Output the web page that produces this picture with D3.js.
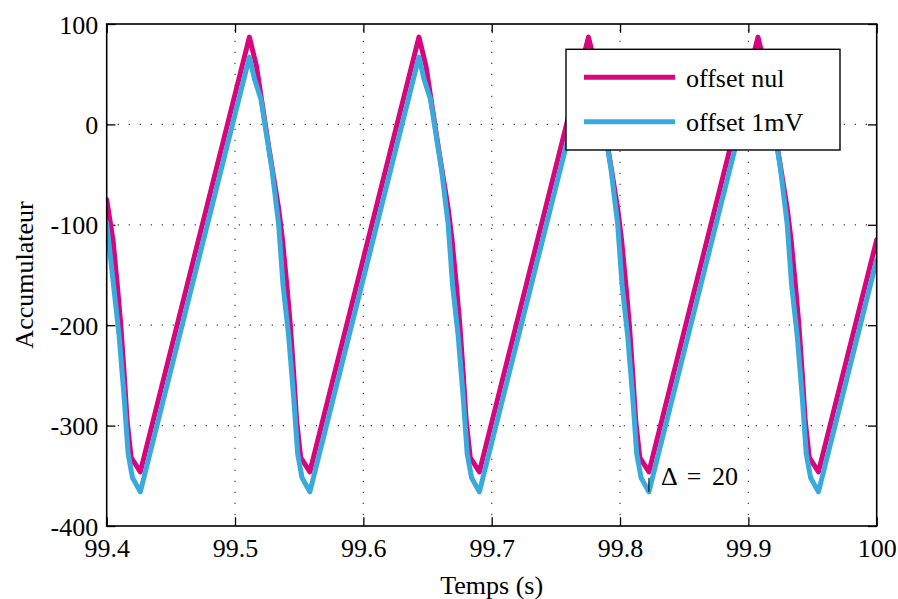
<!DOCTYPE html>
<html>
<head>
<meta charset="utf-8">
<script src="https://cdn.jsdelivr.net/npm/d3@7"></script>
<style>
  html, body { margin: 0; padding: 0; background: #fff; }
  svg text { font-family: "Liberation Serif", "Times New Roman", "DejaVu Serif", serif !important; fill: #000; }
</style>
</head>
<body>
<svg id="chart" width="898" height="599"></svg>
<script>
// ---- data ----
const xTicks = [99.4, 99.5, 99.6, 99.7, 99.8, 99.9, 100];
const xTickLabels = ["99.4", "99.5", "99.6", "99.7", "99.8", "99.9", "100"];
const yTicks = [100, 0, -100, -200, -300, -400];
const yTickLabels = ["100", "0", "-100", "-200", "-300", "-400"];

const seriesNames = ["offset nul", "offset 1mV"];

const timeNul = [
  99.4000, 99.4049, 99.4084, 99.4110, 99.4136, 99.4159, 99.4191, 99.4262,
  99.5112, 99.5167, 99.5262, 99.5340, 99.5370, 99.5405, 99.5431, 99.5457, 99.5480, 99.5512, 99.5583,
  99.6433, 99.6488, 99.6583, 99.6661, 99.6691, 99.6726, 99.6752, 99.6778, 99.6801, 99.6833, 99.6904,
  99.7754, 99.7809, 99.7904, 99.7982, 99.8012, 99.8047, 99.8073, 99.8099, 99.8122, 99.8154, 99.8225,
  99.9075, 99.9130, 99.9225, 99.9303, 99.9333, 99.9368, 99.9394, 99.9420, 99.9443, 99.9475, 99.9546,
  100.0000
];
const valuesNul = [
  -75, -115, -162, -200, -248, -295, -332, -346,
  87, 58, -22, -84, -115, -162, -200, -248, -295, -332, -346,
  87, 58, -22, -84, -115, -162, -200, -248, -295, -332, -346,
  87, 58, -22, -84, -115, -162, -200, -248, -295, -332, -346,
  87, 58, -22, -84, -115, -162, -200, -248, -295, -332, -346,
  -115
];

const time1mV = [
  99.4000, 99.4053, 99.4097, 99.4136, 99.4167, 99.4201, 99.4262,
  99.5112, 99.5152, 99.5202, 99.5288, 99.5340, 99.5374, 99.5418, 99.5457, 99.5488, 99.5522, 99.5583,
  99.6433, 99.6473, 99.6523, 99.6609, 99.6661, 99.6695, 99.6739, 99.6778, 99.6809, 99.6843, 99.6904,
  99.7754, 99.7794, 99.7844, 99.7930, 99.7982, 99.8016, 99.8060, 99.8099, 99.8130, 99.8164, 99.8225,
  99.9075, 99.9115, 99.9165, 99.9251, 99.9303, 99.9337, 99.9381, 99.9420, 99.9451, 99.9485, 99.9546,
  100.0000
];
const values1mV = [
  -98, -160, -211, -272, -328, -352, -366,
  67, 45, 25, -45, -100, -160, -211, -272, -328, -352, -366,
  67, 45, 25, -45, -100, -160, -211, -272, -328, -352, -366,
  67, 45, 25, -45, -100, -160, -211, -272, -328, -352, -366,
  67, 45, 25, -45, -100, -160, -211, -272, -328, -352, -366,
  -135
];

// annotation of the gap between the two troughs
const deltaTime = 99.8225;
const deltaFrom = -352;
const deltaTo = -366;
const deltaLabel = "Δ = 20";

// ---- drawing ----
const colors = ["#d7067e", "#3aaadc"];
const serif = '"Liberation Serif", "Times New Roman", "DejaVu Serif", serif';
const svg = d3.select("#chart");
const L = 106.7, R = 876.7, T = 24, B = 526;

const x = d3.scaleLinear().domain([99.4, 100]).range([L, R]);
const y = d3.scaleLinear().domain([-400, 100]).range([B, T]);

// grid
const grid = svg.append("g");
grid.selectAll("line.gx").data(xTicks.slice(1, -1)).enter().append("line")
  .attr("x1", d => x(d)).attr("x2", d => x(d)).attr("y1", B).attr("y2", T)
  .attr("stroke", "#444").attr("stroke-width", 1.2).attr("stroke-dasharray", "1.3,9.7");
grid.selectAll("line.gy").data(yTicks.slice(1, -1)).enter().append("line")
  .attr("y1", d => y(d)).attr("y2", d => y(d)).attr("x1", L).attr("x2", R)
  .attr("stroke", "#444").attr("stroke-width", 1.2).attr("stroke-dasharray", "1.3,9.7");

// axes with inward ticks on all four sides
const fmtX = (d, i) => xTickLabels[i];
const fmtY = (d, i) => yTickLabels[i];
const axB = svg.append("g").attr("transform", `translate(0,${B})`)
  .call(d3.axisBottom(x).tickValues(xTicks).tickFormat(fmtX).tickSizeInner(-8.7).tickSizeOuter(0).tickPadding(0));
const axT = svg.append("g").attr("transform", `translate(0,${T})`)
  .call(d3.axisTop(x).tickValues(xTicks).tickFormat("").tickSizeInner(-8.7).tickSizeOuter(0));
const axLft = svg.append("g").attr("transform", `translate(${L},0)`)
  .call(d3.axisLeft(y).tickValues(yTicks).tickFormat(fmtY).tickSizeInner(-8.7).tickSizeOuter(0).tickPadding(0));
const axRgt = svg.append("g").attr("transform", `translate(${R},0)`)
  .call(d3.axisRight(y).tickValues(yTicks).tickFormat("").tickSizeInner(-8.7).tickSizeOuter(0));
[axB, axT, axLft, axRgt].forEach(a => {
  a.attr("font-family", serif);
  a.select(".domain").remove();
  a.selectAll(".tick line").attr("stroke", "#000").attr("stroke-width", 1.3);
});
axB.selectAll(".tick text")
  .attr("font-size", 26).attr("dy", null).attr("y", 31)
  .style("font-family", serif);
axLft.selectAll(".tick text")
  .attr("font-size", 26).attr("dy", null).attr("x", -8.5).attr("y", 9)
  .style("font-family", serif);

// series
const line = d3.line().x(d => x(d[0])).y(d => y(d[1]));
const seriesData = [
  d3.zip(timeNul, valuesNul),
  d3.zip(time1mV, values1mV)
];
svg.append("clipPath").attr("id", "clip").append("rect")
  .attr("x", L).attr("y", T).attr("width", R - L).attr("height", B - T);
svg.append("g").attr("clip-path", "url(#clip)")
  .selectAll("path").data(seriesData).enter().append("path")
  .attr("d", line).attr("fill", "none")
  .attr("stroke", (d, i) => colors[i]).attr("stroke-width", 5)
  .attr("stroke-linejoin", "round").attr("stroke-linecap", "round");

// frame
svg.append("rect").attr("x", L).attr("y", T).attr("width", R - L).attr("height", B - T)
  .attr("fill", "none").attr("stroke", "#000").attr("stroke-width", 1.6);

// annotation
svg.append("line")
  .attr("x1", x(deltaTime)).attr("x2", x(deltaTime))
  .attr("y1", y(deltaFrom)).attr("y2", y(deltaTo))
  .attr("stroke", "#000").attr("stroke-width", 1);
svg.append("text").attr("x", 661).attr("y", 485).attr("font-size", 26)
  .attr("word-spacing", 4)
  .attr("xml:space", "preserve").style("white-space", "pre").text(deltaLabel);

// axis labels
svg.append("text").attr("x", (L + R) / 2).attr("y", 594).attr("text-anchor", "middle")
  .attr("font-size", 26).text("Temps (s)");
svg.append("text").attr("transform", `translate(33,${(T + B) / 2}) rotate(-90)`)
  .attr("text-anchor", "middle").attr("font-size", 26).text("Accumulateur");

// legend
const lg = svg.append("g");
lg.append("rect").attr("x", 566).attr("y", 49.3).attr("width", 274).attr("height", 100.7)
  .attr("fill", "#fff").attr("stroke", "#000").attr("stroke-width", 1.4);
const legendY = [77.3, 121.7];
seriesNames.forEach((name, i) => {
  lg.append("line").attr("x1", 584).attr("x2", 675).attr("y1", legendY[i]).attr("y2", legendY[i])
    .attr("stroke", colors[i]).attr("stroke-width", 5);
  lg.append("text").attr("x", 686).attr("y", legendY[i] + 9.4).attr("font-size", 26).text(name);
});
</script>
</body>
</html>
